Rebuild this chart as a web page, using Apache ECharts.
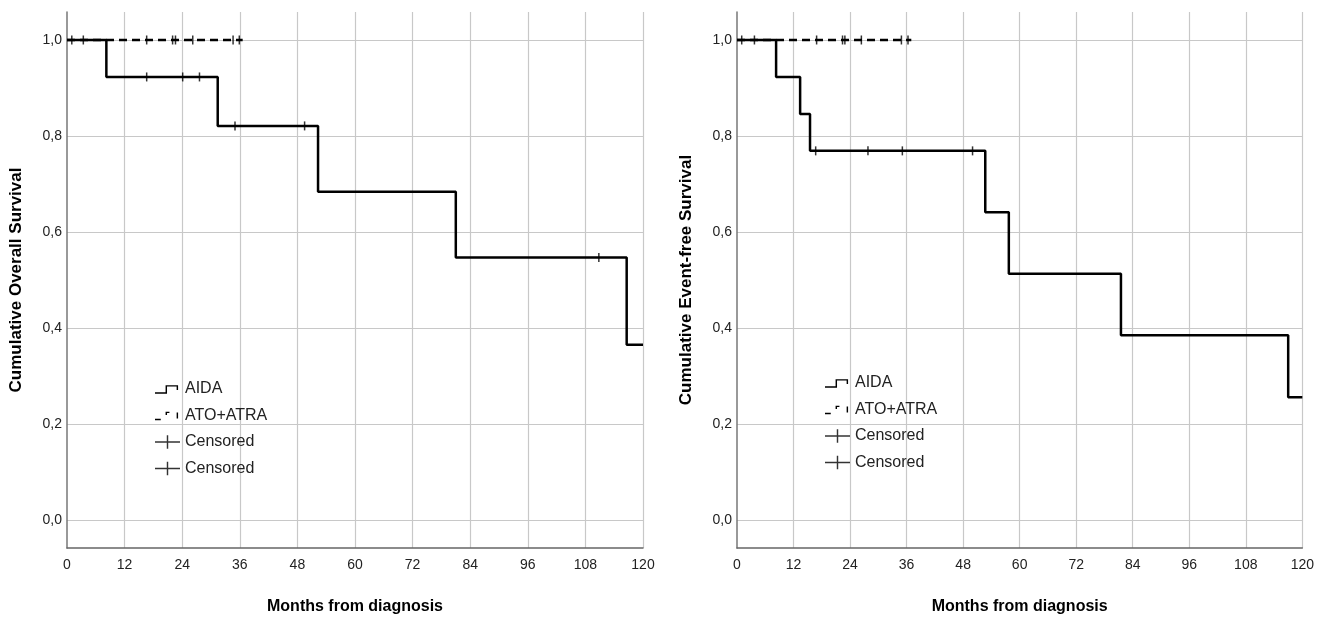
<!DOCTYPE html>
<html style="height: 100%">
<head>
    <meta charset="utf-8">
    <title>Kaplan-Meier OS / EFS</title>
</head>
<body style="height: 100%; margin: 0; background: #fff">
    <div id="container" style="width: 1317px; height: 623px"></div>
    <script type="text/javascript" src="https://cdn.jsdelivr.net/npm/echarts@6/dist/echarts.min.js"></script>
    <script type="text/javascript">
        // overall survival (left panel), [month, cumulative survival]
        var aidaOS = [[0, 1], [8.2, 0.923], [31.4, 0.821], [52.3, 0.684], [81.0, 0.547], [116.6, 0.365], [120, 0.365]];
        var aidaOSCensored = [[16.6, 0.923], [24.1, 0.923], [27.6, 0.923], [35.0, 0.821], [49.5, 0.821], [110.8, 0.547]];
        var atoOS = [[0, 1], [36.6, 1]];
        var atoOSCensored = [[1.0, 1], [3.4, 1], [16.6, 1], [22.0, 1], [22.6, 1], [26.2, 1], [34.6, 1], [35.9, 1]];

        // event-free survival (right panel)
        var aidaEFS = [[0, 1], [8.3, 0.923], [13.4, 0.846], [15.5, 0.769], [52.7, 0.641], [57.7, 0.513], [81.5, 0.385], [117.0, 0.256], [120, 0.256]];
        var aidaEFSCensored = [[16.7, 0.769], [27.8, 0.769], [35.1, 0.769], [50.0, 0.769]];
        var atoEFS = [[0, 1], [37.0, 1]];
        var atoEFSCensored = [[1.0, 1], [3.7, 1], [16.9, 1], [22.4, 1], [22.9, 1], [26.4, 1], [34.9, 1], [36.3, 1]];

        var yTitles = ['Cumulative Overall Survival', 'Cumulative Event-free Survival'];
        var xTitle = 'Months from diagnosis';
        var groupNames = ['AIDA', 'ATO+ATRA'];
        var censorNames = ['Censored (AIDA)', 'Censored (ATO+ATRA)'];

        var font = '"Liberation Sans", Arial, sans-serif';
        var anchors = 'M0,0 L0.01,0 L0,0.01 Z M26,14 L25.99,14 L26,13.99 Z ';
        var iconAida = 'path://' + anchors + 'M0,10.5 H11 V3 H24 V8 H22.5 V4.5 H12.5 V12 H0 Z';
        var iconAto = 'path://' + anchors + 'M0,10.5 H6 V12 H0 Z M11,3 H15 V4.5 H12.5 V6.5 H11 Z M22.5,4 H24 V10 H22.5 Z';
        var iconCens = 'path://M0,6.25 H26 V7.75 H0 Z M12.25,0 H13.75 V14 H12.25 Z';

        var myChart = echarts.init(document.getElementById('container'));

        var grids = [
            { left: 67, top: 12, width: 576, height: 536 },
            { left: 737, top: 12, width: 566, height: 536 }
        ];

        function xAxisFor(i) {
            return {
                type: 'value', gridIndex: i, min: 0, max: 120, interval: 12,
                name: xTitle, nameLocation: 'middle', nameGap: 51,
                nameTextStyle: { fontFamily: font, fontWeight: 'bold', fontSize: 16, color: '#000' },
                axisLine: { onZero: false, lineStyle: { color: '#666', width: 1.5 } },
                axisTick: { show: false },
                axisLabel: { fontFamily: font, fontSize: 14, color: '#222', margin: 10 },
                splitLine: { show: true, showMinLine: false, lineStyle: { color: '#c8c8c8', width: 1.2 } }
            };
        }

        function yAxisFor(i) {
            return {
                type: 'value', gridIndex: i, min: -0.0583, max: 1.0583,
                minInterval: 0.2, maxInterval: 0.2,
                name: yTitles[i], nameLocation: 'middle', nameGap: 42,
                nameTextStyle: { fontFamily: font, fontWeight: 'bold', fontSize: 17, color: '#000' },
                axisLine: { show: true, onZero: false, lineStyle: { color: '#777', width: 1.5 } },
                axisTick: { show: false },
                axisLabel: {
                    fontFamily: font, fontSize: 14, color: '#222', margin: 5,
                    showMinLabel: false, showMaxLabel: false,
                    formatter: function (v) { return v.toFixed(1).replace('.', ','); }
                },
                splitLine: { show: true, showMinLine: false, showMaxLine: false, lineStyle: { color: '#c8c8c8', width: 1.2 } }
            };
        }

        function legendFor(left, top) {
            return {
                orient: 'vertical', left: left, top: top,
                itemWidth: 25, itemHeight: 14, itemGap: 6.5,
                selectedMode: false,
                textStyle: { fontFamily: font, fontSize: 16, color: '#222', lineHeight: 20 },
                formatter: function (name) { return name.indexOf('Censored') === 0 ? 'Censored' : name; },
                data: [
                    { name: groupNames[0], icon: iconAida },
                    { name: groupNames[1], icon: iconAto },
                    { name: censorNames[0], icon: iconCens },
                    { name: censorNames[1], icon: iconCens }
                ]
            };
        }

        function stepSeries(name, data, i, dashed) {
            return {
                name: name, type: 'line', step: 'end', xAxisIndex: i, yAxisIndex: i,
                data: data, showSymbol: false, animation: false,
                itemStyle: { color: '#000' },
                lineStyle: { color: '#000', width: 2.5, type: dashed ? [8, 5] : 'solid' },
                z: dashed ? 2 : 3
            };
        }

        function censorSeries(name, data, i) {
            return {
                name: name, type: 'scatter', xAxisIndex: i, yAxisIndex: i,
                data: data, symbol: 'rect', symbolSize: [1.5, 9], animation: false,
                itemStyle: { color: '#000' }, z: 4
            };
        }

        var option = {
            backgroundColor: '#fff',
            grid: grids,
            xAxis: [xAxisFor(0), xAxisFor(1)],
            yAxis: [yAxisFor(0), yAxisFor(1)],
            legend: [legendFor(150, 374), legendFor(820, 368)],
            series: [
                stepSeries(groupNames[1], atoOS, 0, true),
                stepSeries(groupNames[0], aidaOS, 0, false),
                censorSeries(censorNames[0], aidaOSCensored, 0),
                censorSeries(censorNames[1], atoOSCensored, 0),
                stepSeries(groupNames[1], atoEFS, 1, true),
                stepSeries(groupNames[0], aidaEFS, 1, false),
                censorSeries(censorNames[0], aidaEFSCensored, 1),
                censorSeries(censorNames[1], atoEFSCensored, 1)
            ]
        };

        if (option && typeof option === 'object') {
            myChart.setOption(option, true);
        }
    </script>
</body>
</html>
